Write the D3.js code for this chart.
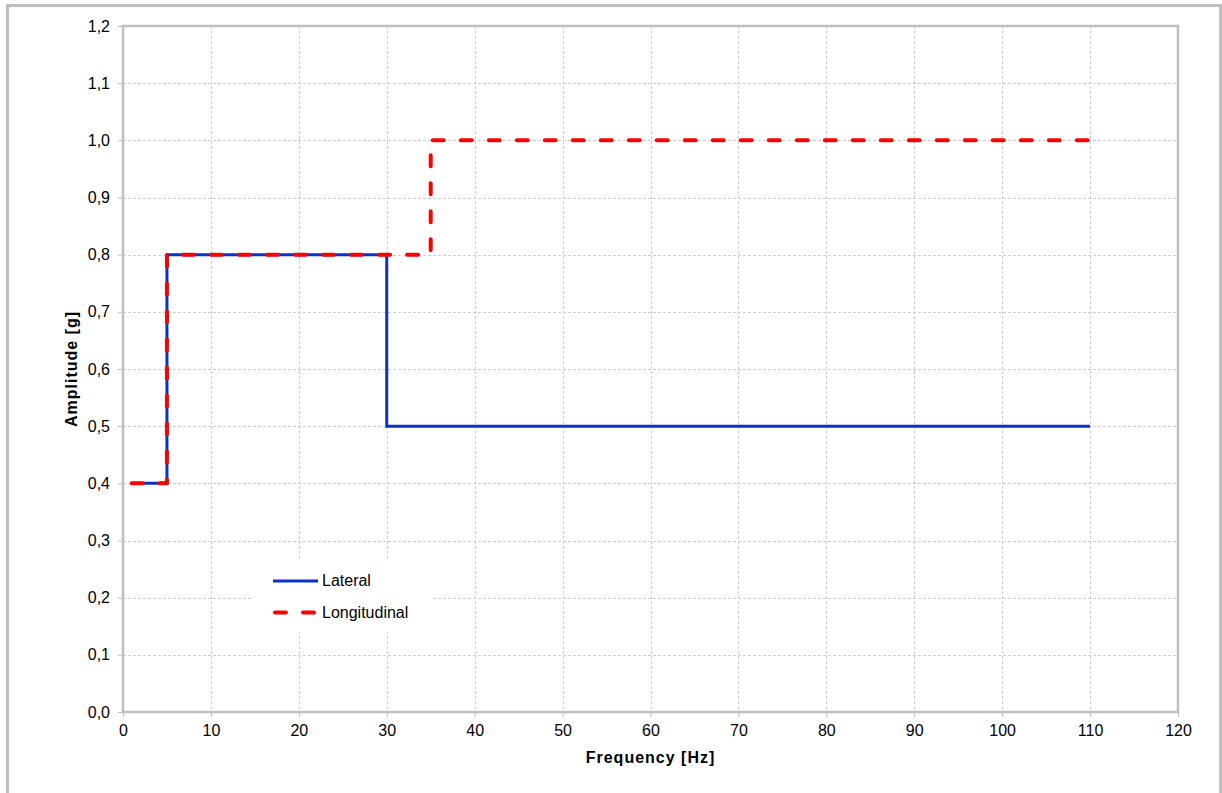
<!DOCTYPE html>
<html>
<head>
<meta charset="utf-8">
<script src="https://cdn.jsdelivr.net/npm/d3@7"></script>
<style>
  body { margin: 0; background: #fff; }
  text { font-family: "Liberation Sans", Arial, sans-serif; fill: #000; }
</style>
</head>
<body>
<script>
// step profiles, frequency in Hz, amplitude in g
var lateralFreq = [1, 5, 5, 30, 30, 110];
var lateralAmp  = [0.4, 0.4, 0.8, 0.8, 0.5, 0.5];
var longFreq = [1, 5, 5, 35, 35, 110];
var longAmp  = [0.4, 0.4, 0.8, 0.8, 1.0, 1.0];
var xTicks = [0, 10, 20, 30, 40, 50, 60, 70, 80, 90, 100, 110, 120];
var yTicks = [0, 0.1, 0.2, 0.3, 0.4, 0.5, 0.6, 0.7, 0.8, 0.9, 1.0, 1.1, 1.2];
var seriesNames = ['Lateral', 'Longitudinal'];

var w = 1222,
    h = 793;

var svg = d3.select('body').append('svg')
  .attr('width', w)
  .attr('height', h);

// outer frame
svg.append('rect')
  .attr('x', 7.5).attr('y', 5.5)
  .attr('width', 1213).attr('height', 800)
  .attr('fill', '#fff')
  .attr('stroke', '#bfbfbf')
  .attr('stroke-width', 3);

var pLeft = 123, pRight = 1178, pTop = 26, pBottom = 712;

var x = d3.scaleLinear().domain([0, 120]).range([pLeft, pRight]);
var y = d3.scaleLinear().domain([0, 1.2]).range([pBottom, pTop]);

var fmt = function(d) { return d3.format('.1f')(d).replace('.', ','); };

// grid
var grid = svg.append('g')
  .attr('stroke', '#cfcfcf')
  .attr('stroke-width', 1)
  .attr('stroke-dasharray', '3,2');

grid.selectAll('.vg')
  .data(xTicks.slice(1, -1))
  .enter()
  .append('line')
    .attr('x1', function(d) { return Math.round(x(d)) + 0.5; })
    .attr('x2', function(d) { return Math.round(x(d)) + 0.5; })
    .attr('y1', pTop)
    .attr('y2', pBottom);

grid.selectAll('.hg')
  .data(yTicks.slice(1, -1))
  .enter()
  .append('line')
    .attr('x1', pLeft)
    .attr('x2', pRight)
    .attr('y1', function(d) { return Math.round(y(d)) + 0.5; })
    .attr('y2', function(d) { return Math.round(y(d)) + 0.5; });

// axes
var xAxis = svg.append('g')
  .attr('transform', 'translate(0,' + pBottom + ')')
  .call(d3.axisBottom(x).tickValues(xTicks).tickSize(5).tickPadding(8));
var yAxis = svg.append('g')
  .attr('transform', 'translate(' + pLeft + ',0)')
  .call(d3.axisLeft(y).tickValues(yTicks).tickFormat(fmt).tickSize(5).tickPadding(8));

[xAxis, yAxis].forEach(function(a) {
  a.select('.domain').remove();
  a.selectAll('.tick line').attr('stroke', '#bfbfbf');
  a.selectAll('.tick text')
    .style('font-family', '"Liberation Sans", Arial, sans-serif')
    .style('font-size', '16px')
    .attr('fill', '#000');
});

// plot area border
svg.append('rect')
  .attr('x', pLeft).attr('y', pTop)
  .attr('width', pRight - pLeft).attr('height', pBottom - pTop)
  .attr('fill', 'none')
  .attr('stroke', '#bfbfbf')
  .attr('stroke-width', 2.5);

// axis titles
svg.append('text')
  .attr('x', (pLeft + pRight) / 2)
  .attr('y', 763)
  .attr('text-anchor', 'middle')
  .style('font-size', '16px')
  .style('font-weight', 'bold')
  .style('letter-spacing', '1px')
  .text('Frequency [Hz]');

svg.append('text')
  .attr('transform', 'translate(77,' + (pTop + pBottom) / 2 + ') rotate(-90)')
  .attr('text-anchor', 'middle')
  .style('font-size', '16px')
  .style('font-weight', 'bold')
  .style('letter-spacing', '1px')
  .text('Amplitude [g]');

// lines
var line = d3.line()
  .x(function(d) { return x(d[0]); })
  .y(function(d) { return y(d[1]); });

svg.append('path')
  .datum(d3.zip(lateralFreq, lateralAmp))
  .attr('d', line)
  .attr('fill', 'none')
  .attr('stroke', '#0a32c8')
  .attr('stroke-width', 3);

svg.append('path')
  .datum(d3.zip(longFreq, longAmp))
  .attr('d', line)
  .attr('fill', 'none')
  .attr('stroke', '#ff0000')
  .attr('stroke-width', 4)
  .attr('stroke-linecap', 'round')
  .attr('stroke-linejoin', 'round')
  .attr('stroke-dasharray', '11,17');

// legend
var legend = svg.append('g').attr('transform', 'translate(252,560)');
legend.append('rect')
  .attr('width', 180).attr('height', 72)
  .attr('fill', '#fff');

var items = legend.selectAll('.item')
  .data(seriesNames)
  .enter()
  .append('g')
    .attr('transform', function(d, i) { return 'translate(0,' + (21 + i * 31.5) + ')'; });

items.append('line')
  .attr('x1', function(d, i) { return i ? 23 : 21; })
  .attr('x2', function(d, i) { return i ? 64 : 66; })
  .attr('stroke', function(d, i) { return i ? '#ff0000' : '#0a32c8'; })
  .attr('stroke-width', function(d, i) { return i ? 4 : 3; })
  .attr('stroke-linecap', function(d, i) { return i ? 'round' : 'butt'; })
  .attr('stroke-dasharray', function(d, i) { return i ? '11,17' : null; });

items.append('text')
  .attr('x', 70)
  .attr('y', 5)
  .style('font-size', '16px')
  .text(function(d) { return d; });
</script>
</body>
</html>
